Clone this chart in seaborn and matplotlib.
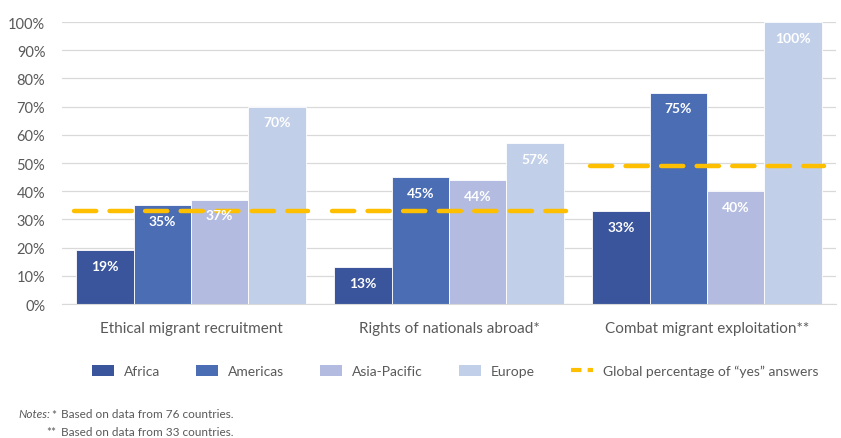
import matplotlib.pyplot as plt
import seaborn as sns
import pandas as pd
from matplotlib.patches import Patch
from matplotlib.lines import Line2D

categories = ["Ethical migrant recruitment", "Rights of nationals abroad*", "Combat migrant exploitation**"]
regions = ["Africa", "Americas", "Asia-Pacific", "Europe"]
africa = [19, 13, 33]
americas = [35, 45, 75]
asia_pacific = [37, 44, 40]
europe = [70, 57, 100]
global_yes = [33, 33, 49]

colors = ["#3A559B", "#4A6DB3", "#B3BCE0", "#C1CFE9"]
line_color = "#FDBF00"
text_color = "#595959"

rows = []
for reg, vals in zip(regions, [africa, americas, asia_pacific, europe]):
    for cat, v in zip(categories, vals):
        rows.append({"category": cat, "region": reg, "value": v})
df = pd.DataFrame(rows)

sns.set_style("white")
plt.rcParams["font.family"] = ["Lato", "DejaVu Sans"]

fig = plt.figure(figsize=(8.41, 4.39), dpi=100)
ax = fig.add_axes([0.0737, 0.3052, 0.9203, 0.6424])

group_w = 0.89
sns.barplot(data=df, x="category", y="value", hue="region", order=categories,
            hue_order=regions, palette=colors, width=group_w, saturation=1,
            edgecolor="white", linewidth=0.6, legend=False, ax=ax, zorder=2)

# value labels inside bars
for cont in ax.containers:
    for bar in cont:
        h = bar.get_height()
        ax.annotate(f"{h:.0f}%", (bar.get_x() + bar.get_width() / 2, h),
                    xytext=(0, -7), textcoords="offset points",
                    ha="center", va="top", color="white",
                    fontsize=10, fontweight="bold", zorder=4)

# global percentage dashed lines across each group
for i, g in enumerate(global_yes):
    ax.hlines(g, i - group_w / 2 - 0.01, i + group_w / 2 + 0.01, colors=line_color,
              linewidth=3.2, linestyles=(0, (5, 3)), capstyle="round", zorder=3)

ax.set_xlim(-0.5, 2.5)
ax.set_ylim(0, 100)
ax.set_yticks(range(0, 101, 10))
ax.set_yticklabels([f"{t}%" for t in range(0, 101, 10)])
ax.grid(axis="y", color="#D9D9D9", linewidth=0.9, zorder=0)
ax.set_axisbelow(True)
for s in ["top", "right", "left"]:
    ax.spines[s].set_visible(False)
ax.spines["bottom"].set_color("#D9D9D9")
ax.set_xlabel("")
ax.set_ylabel("")
ax.tick_params(axis="y", length=0, pad=12, labelsize=10.5, labelcolor=text_color)
ax.tick_params(axis="x", length=0, pad=12, labelsize=11, labelcolor=text_color)

handles = [Patch(facecolor=c, edgecolor="none") for c in colors]
handles.append(Line2D([0], [0], color=line_color, linewidth=3, linestyle=(0, (2.5, 1.5))))
labels = regions + ["Global percentage of \u201cyes\u201d answers"]
fig.legend(handles, labels, loc="center", bbox_to_anchor=(455 / 841, 1 - 372 / 439),
           ncol=5, frameon=False, fontsize=10, handlelength=1.6, handleheight=0.9,
           columnspacing=2.6, handletextpad=0.7, labelcolor=text_color)

fig.text(18 / 841, 1 - 415 / 439, "Notes:", fontsize=8.5, style="italic",
         color=text_color, va="center")
fig.text(56 / 841, 1 - 415 / 439, "*", fontsize=8.5, color=text_color, va="center", ha="right")
fig.text(61 / 841, 1 - 415 / 439, "Based on data from 76 countries.", fontsize=8.5,
         color=text_color, va="center")
fig.text(56 / 841, 1 - 433 / 439, "**", fontsize=8.5, color=text_color, va="center", ha="right")
fig.text(61 / 841, 1 - 433 / 439, "Based on data from 33 countries.", fontsize=8.5,
         color=text_color, va="center")

fig.savefig("out.png", dpi=100)
